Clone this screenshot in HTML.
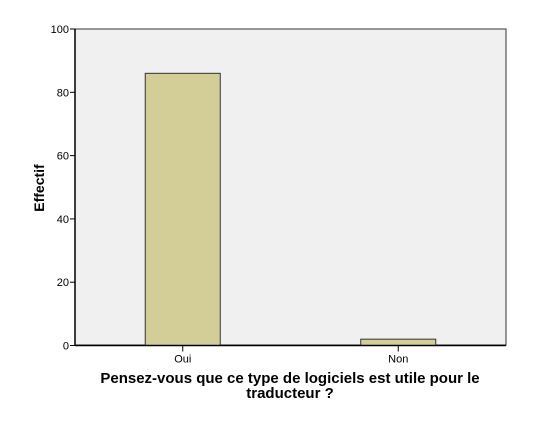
<!DOCTYPE html>
<html><head><meta charset="utf-8"><style>
body{margin:0;background:#fff;}
svg{display:block;font-family:"Liberation Sans",Arial,sans-serif;}
</style></head><body>
<svg id="chart" width="536" height="431">
<rect x="75" y="29" width="431" height="316" fill="#f0f0f0" stroke="#333" stroke-width="1"/>
<g id="bars"></g>
<line x1="75" y1="29" x2="75" y2="346" stroke="#000" stroke-width="1.5"/>
<line x1="75" y1="345.5" x2="506" y2="345.5" stroke="#000" stroke-width="1.5"/>
<g id="yticks"></g><g id="xticks"></g>
<text x="44" y="188" transform="rotate(-90 44 188)" text-anchor="middle" font-size="14" font-weight="bold">Effectif</text>
<text x="290" y="383" text-anchor="middle" font-size="15" font-weight="bold">Pensez-vous que ce type de logiciels est utile pour le</text>
<text x="290" y="398" text-anchor="middle" font-size="15" font-weight="bold">traducteur ?</text>
</svg>
<script>
const categories=["Oui","Non"];
const values=[86,2];
const yTicks=[0,20,40,60,80,100];
const NS="http://www.w3.org/2000/svg";
const L=75,R=506,T=29,B=345.5,yMax=100;
const y=v=>B-(B-T)*v/yMax;
const band=(R-L)/categories.length;
const xc=i=>L+band*(i+0.5);
const bw=75;
function mk(t,a,p){const e=document.createElementNS(NS,t);for(const k in a)e.setAttribute(k,a[k]);p.appendChild(e);return e;}
const gb=document.getElementById('bars'),gy=document.getElementById('yticks'),gx=document.getElementById('xticks');
values.forEach((v,i)=>{
 const r=mk('rect',{x:xc(i)-bw/2,y:y(v),width:bw,height:B-y(v),fill:'#d3ce97',stroke:'#333','stroke-width':1},gb);
 
 
 mk('line',{x1:xc(i),y1:B,x2:xc(i),y2:B+6,stroke:'#000'},gx);
 const t=mk('text',{x:xc(i),y:B+17,'text-anchor':'middle','font-size':11},gx);
 t.textContent=categories[i];
 
 
});
yTicks.forEach(v=>{
 mk('line',{x1:L-5,y1:y(v),x2:L,y2:y(v),stroke:'#000'},gy);
 const t=mk('text',{x:L-6,y:y(v)+4,'text-anchor':'end','font-size':11},gy);
 t.textContent=v;
 
 
});
</script>
</body></html>
